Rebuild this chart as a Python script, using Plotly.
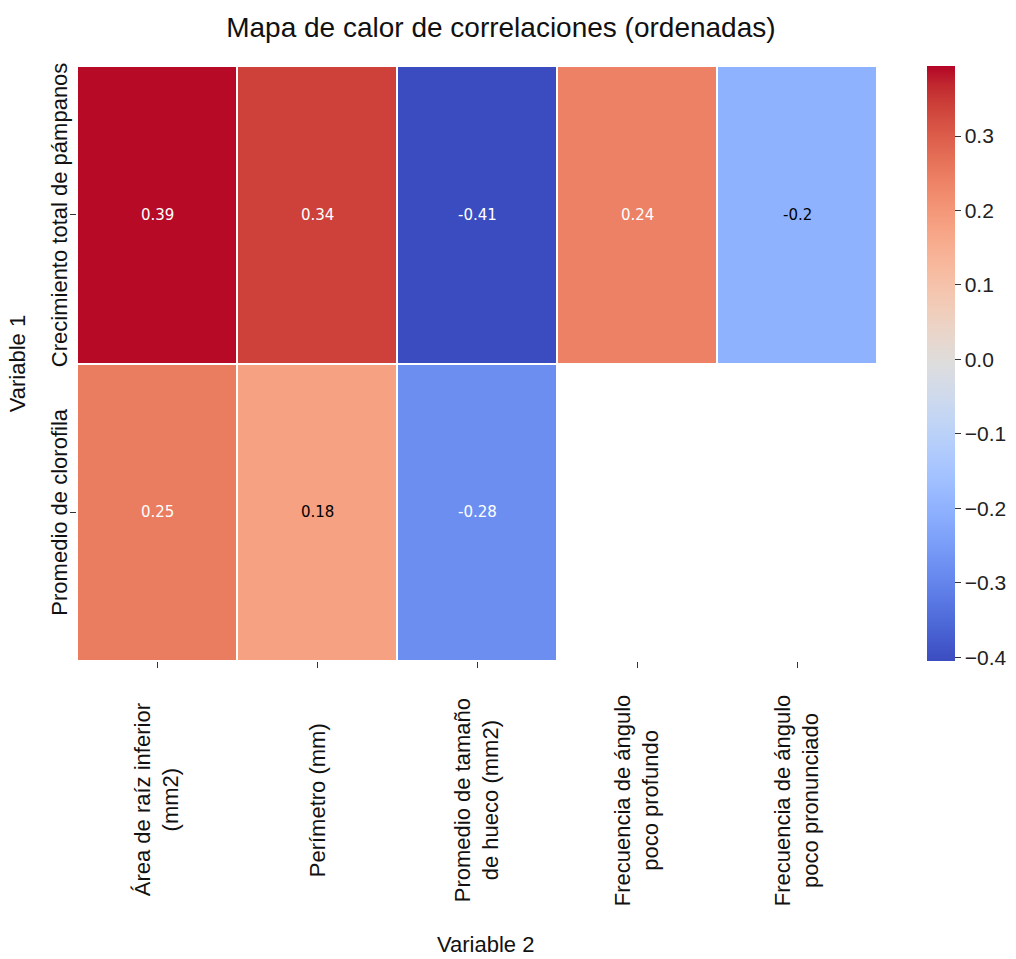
import plotly.graph_objects as go

# Correlation matrix (rows: Variable 1, columns: Variable 2)
row_labels = ["Crecimiento total de pámpanos", "Promedio de clorofila"]
col_labels = [
    "Área de raíz inferior<br>(mm2)",
    "Perímetro (mm)",
    "Promedio de tamaño<br>de hueco (mm2)",
    "Frecuencia de ángulo<br>poco profundo",
    "Frecuencia de ángulo<br>poco pronunciado",
]
corr_row1 = [0.39, 0.34, -0.41, 0.24, -0.2]
corr_row2 = [0.25, 0.18, -0.28, None, None]
cbar_ticks = [-0.4, -0.3, -0.2, -0.1, 0.0, 0.1, 0.2, 0.3]

# colour limits of the scale (unrounded extremes of the correlations)
zmin, zmax = -0.405, 0.394

z = [corr_row1, corr_row2]

# matplotlib "coolwarm" sampled at 33 evenly spaced stops
coolwarm_rgb = [
    (59, 76, 192), (68, 90, 204), (77, 104, 215), (87, 117, 225), (98, 130, 234),
    (108, 142, 241), (119, 154, 247), (130, 165, 251), (141, 176, 254), (152, 185, 255),
    (163, 194, 255), (174, 201, 253), (184, 208, 249), (194, 213, 244), (204, 217, 238),
    (213, 219, 230), (221, 221, 221), (229, 216, 209), (236, 211, 197), (241, 204, 185),
    (245, 196, 173), (247, 187, 160), (247, 177, 148), (247, 166, 135), (244, 154, 123),
    (241, 141, 111), (236, 127, 99), (229, 112, 88), (222, 96, 77), (213, 80, 66),
    (203, 62, 56), (192, 40, 47), (180, 4, 38),
]
n = len(coolwarm_rgb)
colorscale = [[i / (n - 1), "rgb(%d,%d,%d)" % c] for i, c in enumerate(coolwarm_rgb)]


def color_at(v):
    t = (v - zmin) / (zmax - zmin)
    t = max(0.0, min(1.0, t)) * (n - 1)
    i = min(int(t), n - 2)
    f = t - i
    a, b = coolwarm_rgb[i], coolwarm_rgb[i + 1]
    return [a[k] + (b[k] - a[k]) * f for k in range(3)]


def luminance(rgb):
    out = []
    for c in rgb:
        c = c / 255.0
        out.append(c / 12.92 if c <= 0.03928 else ((c + 0.055) / 1.055) ** 2.4)
    return 0.2126 * out[0] + 0.7152 * out[1] + 0.0722 * out[2]


LABEL_FONT = "Liberation Sans, Arial"

fig = go.Figure()
fig.add_trace(go.Heatmap(
    z=z,
    x=list(range(len(col_labels))),
    y=list(range(len(row_labels))),
    colorscale=colorscale,
    zmin=zmin,
    zmax=zmax,
    xgap=2,
    ygap=2,
    hoverongaps=False,
    colorbar=dict(
        x=1.0625, xanchor="left", xref="paper", xpad=0, ypad=0,
        y=0.5, yanchor="middle", len=1.0, lenmode="fraction",
        thickness=28, outlinewidth=0,
        tickvals=cbar_ticks,
        ticktext=[("%.1f" % t).replace("-", "\u2212") for t in cbar_ticks],
        ticks="outside", ticklen=6, tickwidth=1.2, tickcolor="#333",
        tickfont=dict(family=LABEL_FONT, size=21, color="#222"),
    ),
))

annotations = []
# Cell values
for r, row in enumerate(z):
    for c, v in enumerate(row):
        if v is None:
            continue
        txt_color = "black" if luminance(color_at(v)) > 0.408 else "white"
        annotations.append(dict(
            x=c, y=r, xref="x", yref="y", text=str(v), showarrow=False,
            font=dict(family="DejaVu Sans", size=15, color=txt_color),
        ))

# Column labels, rotated and centred below the axis
for c, lab in enumerate(col_labels):
    annotations.append(dict(
        x=c, y=-0.234, xref="x", yref="paper", text=lab, showarrow=False,
        textangle=-90, xanchor="center", yanchor="middle", align="center",
        font=dict(family=LABEL_FONT, size=22, color="#111"),
    ))

# Row labels, rotated and centred on each row
for r, lab in enumerate(row_labels):
    annotations.append(dict(
        x=-0.022, y=r, xref="paper", yref="y", text=lab, showarrow=False,
        textangle=-90, xanchor="center", yanchor="middle",
        font=dict(family=LABEL_FONT, size=22, color="#111"),
    ))

# Axis titles
annotations.append(dict(
    x=-0.074, y=0.5, xref="paper", yref="paper", text="Variable 1", showarrow=False,
    textangle=-90, xanchor="center", yanchor="middle",
    font=dict(family=LABEL_FONT, size=22, color="#111"),
))
annotations.append(dict(
    x=0.51, y=-0.477, xref="paper", yref="paper", text="Variable 2", showarrow=False,
    xanchor="center", yanchor="middle",
    font=dict(family=LABEL_FONT, size=22, color="#111"),
))

fig.update_layout(
    width=1016, height=959,
    margin=dict(l=77, r=139, t=66, b=298, autoexpand=False),
    paper_bgcolor="white", plot_bgcolor="white",
    title=dict(
        text="Mapa de calor de correlaciones (ordenadas)",
        x=0.493, xanchor="center", xref="container",
        y=1 - 27 / 959, yanchor="middle", yref="container",
        font=dict(family=LABEL_FONT, size=28, color="#111"),
    ),
    annotations=annotations,
    xaxis=dict(
        range=[-0.5, len(col_labels) - 0.5],
        tickvals=list(range(len(col_labels))), showticklabels=False,
        ticks="outside", ticklen=6, tickwidth=1.2, tickcolor="#333",
        showgrid=False, zeroline=False, showline=False,
    ),
    yaxis=dict(
        range=[len(row_labels) - 0.5, -0.5],
        tickvals=list(range(len(row_labels))), showticklabels=False,
        ticks="outside", ticklen=6, tickwidth=1.2, tickcolor="#333",
        showgrid=False, zeroline=False, showline=False,
    ),
)

fig.write_html("out.html")
